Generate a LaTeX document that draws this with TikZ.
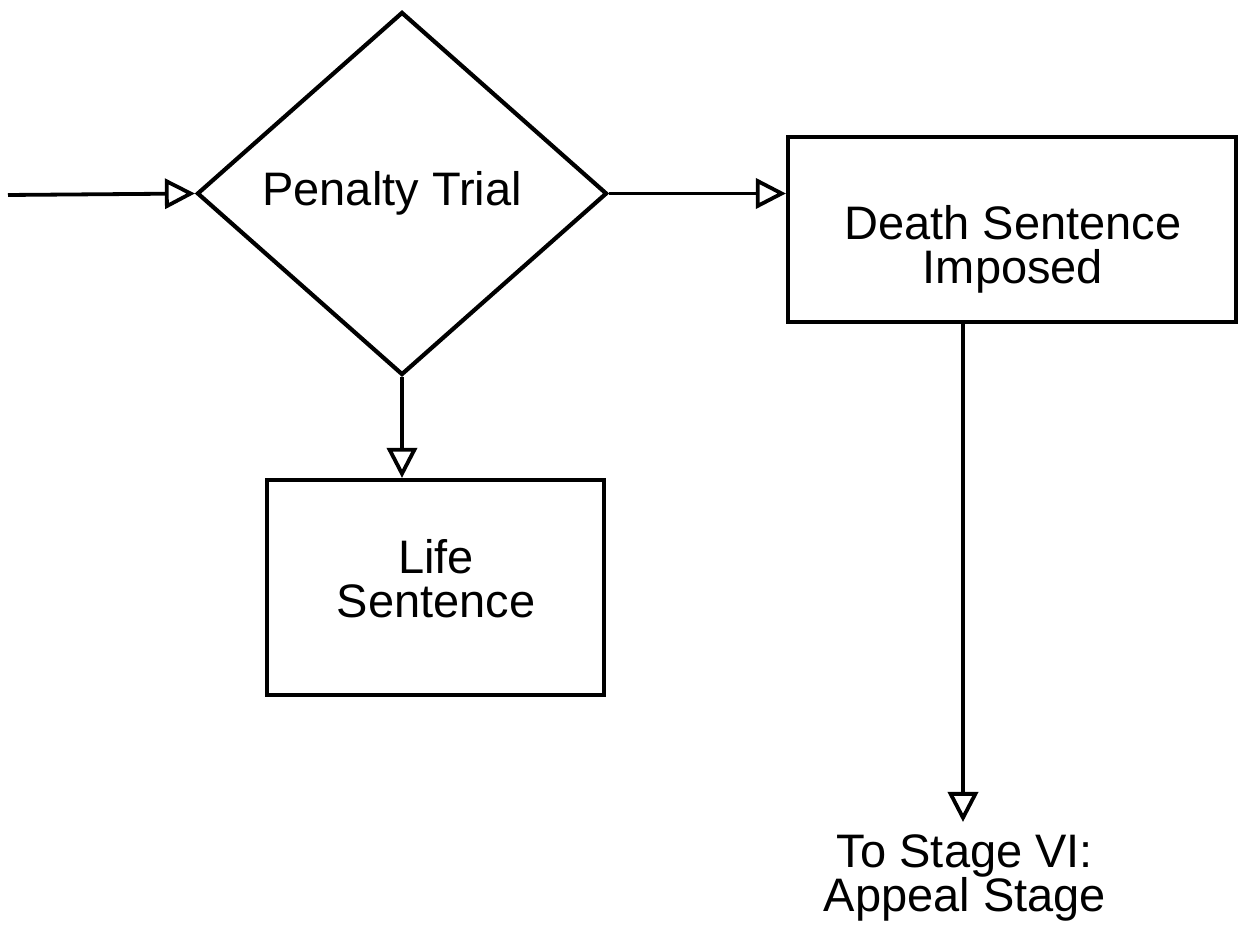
\documentclass[tikz,border=0pt]{standalone}
\usepackage{fontspec}
\setmainfont{Liberation Sans}
\usetikzlibrary{shapes.geometric,arrows.meta}
\begin{document}
\begin{tikzpicture}[x=0.5pt,y=-0.5pt,
  every node/.style={font=\fontsize{23.5}{22}\selectfont, align=center},
  flow/.style={line width=1.9pt, -{Triangle[open,length=15pt,width=15pt,line width=1.9pt]}},
  boxnode/.style={draw, line width=2.1pt, inner sep=0pt},
  decision/.style={draw, diamond, line width=2.1pt, inner sep=0pt, minimum width=205pt, minimum height=181.5pt}
]
\useasboundingbox (0,0) rectangle (1238,929);
\node[decision] (trial) at (402,193.5) {};
\node (trialtxt) at (392,193) {Penalty Trial};
\node[boxnode, minimum width=224pt, minimum height=92.5pt] (death) at (1012,229.5) {};
\node (deathtxt) at (1013,249) {Death Sentence\\Imposed};
\node[boxnode, minimum width=168.5pt, minimum height=107.5pt] (life) at (435.5,587.5) {};
\node (lifetxt) at (436,579) {Life\\Sentence};
\node (stage) at (965,878) {To Stage VI:\\Appeal Stage};
\coordinate (in) at (8,195);
\coordinate (tip) at (963,822);
\draw[flow] (in) -- (trial.west);
\draw[flow] (trial.east) -- (death.west |- trial.east);
\draw[flow] (trial.south) -- (life.north -| trial.south);
\draw[flow] (death.south -| tip) -- (tip);
\end{tikzpicture}
\end{document}
